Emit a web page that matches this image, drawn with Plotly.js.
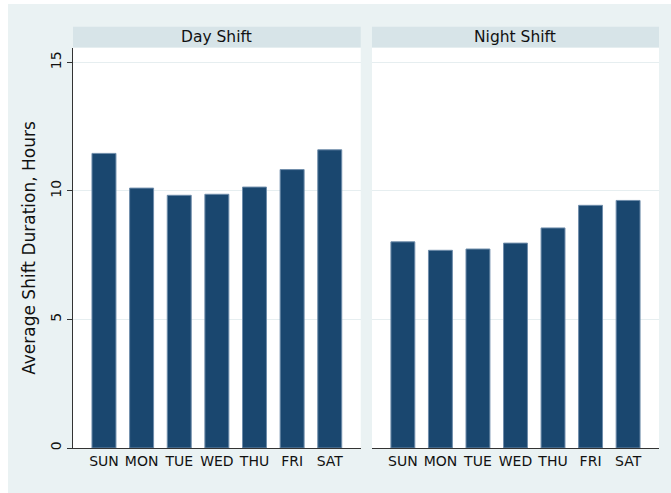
<!DOCTYPE html>
<html>
<head>
<meta charset="utf-8">
<script src="https://cdn.plot.ly/plotly-3.0.1.min.js"></script>
<style>
html,body{margin:0;padding:0;background:#ffffff;}
#chart{position:absolute;left:8px;top:4px;width:663px;height:489px;}
</style>
</head>
<body>
<div id="chart"></div>
<script>
const days = ["SUN","MON","TUE","WED","THU","FRI","SAT"];
const dayShift = [11.46, 10.11, 9.83, 9.87, 10.15, 10.83, 11.60];
const nightShift = [8.02, 7.69, 7.74, 7.97, 8.56, 9.44, 9.63];
const panelTitles = ["Day Shift", "Night Shift"];
const yTicks = [0, 5, 10, 15];
const yTitle = "Average Shift Duration, Hours";

const navy = "#1a476f";
const font = "DejaVu Sans, sans-serif";

const barStyle = {color: navy, line: {color: "#6f8dab", width: 1}};

const traces = [
  {type: "bar", x: days, y: dayShift, xaxis: "x", yaxis: "y", marker: barStyle, hoverinfo: "x+y"},
  {type: "bar", x: days, y: nightShift, xaxis: "x2", yaxis: "y2", marker: barStyle, hoverinfo: "x+y"}
];

const xBase = {
  type: "category",
  range: [-0.823, 6.823],
  showline: true, linecolor: "#333333", linewidth: 1,
  ticks: "", showgrid: false, zeroline: false,
  tickfont: {family: font, size: 14, color: "#111111"},
  fixedrange: true
};

const yRange = [0, 15.56];

const layout = {
  width: 663, height: 489,
  margin: {l: 65, r: 12, t: 44, b: 45},
  paper_bgcolor: "#eaf2f3",
  plot_bgcolor: "rgba(0,0,0,0)",
  showlegend: false,
  bargap: 0.363,
  font: {family: font, color: "#111111"},
  xaxis: Object.assign({}, xBase, {domain: [0, 0.491], anchor: "y"}),
  xaxis2: Object.assign({}, xBase, {domain: [0.5102, 1], anchor: "y2"}),
  yaxis: {
    range: yRange, tickvals: yTicks, ticktext: yTicks.map(String),
    ticks: "outside", ticklen: 5, tickcolor: "#333333",
    tickangle: -90,
    tickfont: {family: font, size: 14, color: "#111111"},
    showline: true, linecolor: "#333333", linewidth: 1,
    showgrid: true, gridcolor: "#e6eef0", gridwidth: 1,
    zeroline: false, anchor: "x",
    title: {text: yTitle, font: {family: font, size: 17, color: "#111111"}, standoff: 8},
    fixedrange: true
  },
  yaxis2: {
    range: yRange, tickvals: yTicks, showticklabels: false, ticks: "",
    showline: false, showgrid: true, gridcolor: "#e6eef0", gridwidth: 1,
    zeroline: false, anchor: "x2", fixedrange: true
  },
  shapes: [
    {type: "rect", xref: "x domain", yref: "paper", x0: 0, x1: 1, y0: 0, y1: 1, fillcolor: "#ffffff", line: {width: 0}, layer: "below"},
    {type: "rect", xref: "x2 domain", yref: "paper", x0: 0, x1: 1, y0: 0, y1: 1, fillcolor: "#ffffff", line: {width: 0}, layer: "below"},
    {type: "rect", xref: "x domain", yref: "paper", x0: 0, x1: 1, y0: 1.002, y1: 1.053, fillcolor: "#d7e4e8", line: {width: 0}},
    {type: "rect", xref: "x2 domain", yref: "paper", x0: 0, x1: 1, y0: 1.002, y1: 1.053, fillcolor: "#d7e4e8", line: {width: 0}}
  ],
  annotations: [
    {text: panelTitles[0], xref: "x domain", yref: "paper", x: 0.5, y: 1.0275, xanchor: "center", yanchor: "middle", showarrow: false, font: {family: font, size: 15.5, color: "#111111"}},
    {text: panelTitles[1], xref: "x2 domain", yref: "paper", x: 0.5, y: 1.0275, xanchor: "center", yanchor: "middle", showarrow: false, font: {family: font, size: 15.5, color: "#111111"}}
  ]
};

Plotly.newPlot("chart", traces, layout, {displayModeBar: false, staticPlot: true});
</script>
</body>
</html>
